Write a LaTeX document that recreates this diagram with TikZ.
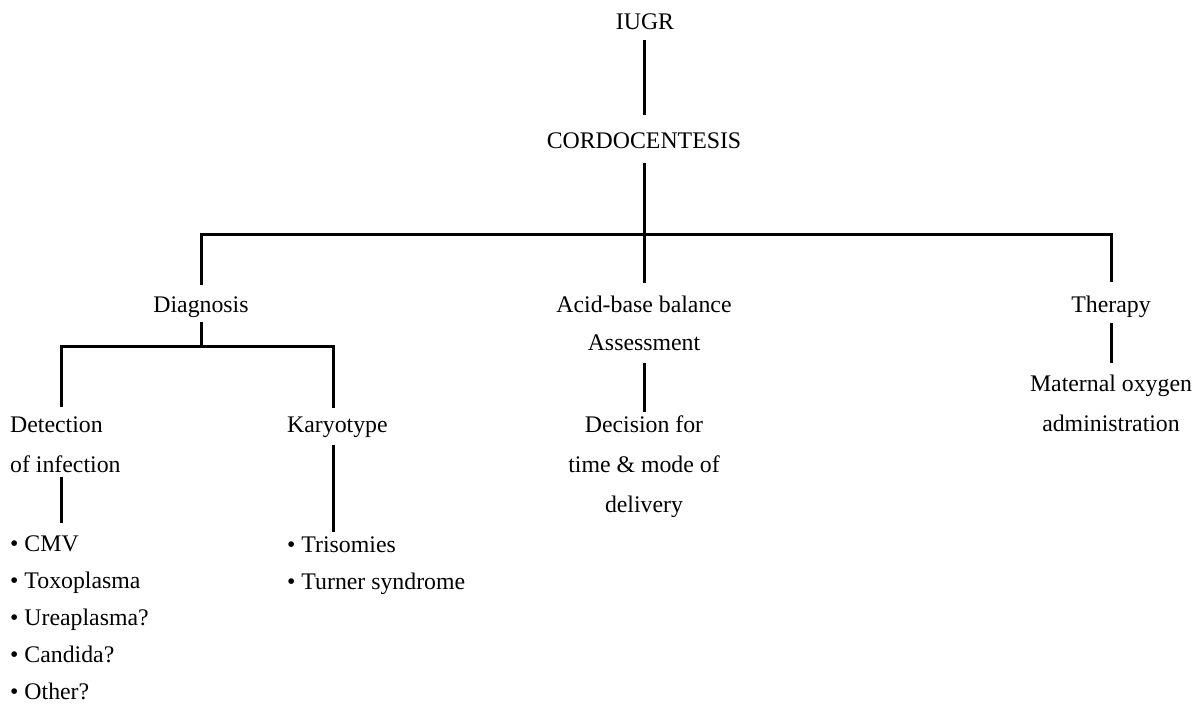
\documentclass[tikz,border=0pt]{standalone}
\usepackage{fontspec}
\setmainfont{Liberation Serif}
\begin{document}
\begin{tikzpicture}[x=1pt,y=-1pt,
  lbl/.style={inner sep=0pt,text height=15.5pt,text depth=5pt,font=\fontsize{23.8}{28}\selectfont},
  cl/.style={lbl,anchor=base},
  ll/.style={lbl,anchor=base west},
  conn/.style={line width=3pt,line join=miter}]
\useasboundingbox (0,0) rectangle (1201,711);
% nodes
\node[cl] (iugr) at (645,30) {IUGR};
\node[cl] (cordo) at (644,149) {CORDOCENTESIS};
\node[cl] (diag) at (201,312) {Diagnosis};
\node[cl] (acid1) at (644,312) {Acid-base balance};
\node[cl] (acid2) at (644,350) {Assessment};
\node[cl] (ther) at (1111,312) {Therapy};
\node[ll] (det1) at (10,432) {Detection};
\node[ll] (det2) at (10,472) {of infection};
\node[ll] (kary) at (287,432) {Karyotype};
\node[cl] (dec1) at (644,432) {Decision for};
\node[cl] (dec2) at (644,472) {time \& mode of};
\node[cl] (dec3) at (644,512) {delivery};
\node[cl] (mat1) at (1111,391) {Maternal oxygen};
\node[cl] (mat2) at (1111,431) {administration};
\node[ll] (cmv) at (10,551) {\textbullet\ CMV};
\node[ll] (toxo) at (10,588) {\textbullet\ Toxoplasma};
\node[ll] (urea) at (10,625) {\textbullet\ Ureaplasma?};
\node[ll] (cand) at (10,662) {\textbullet\ Candida?};
\node[ll] (oth) at (10,699) {\textbullet\ Other?};
\node[ll] (tri) at (287,552) {\textbullet\ Trisomies};
\node[ll] (turn) at (287,589) {\textbullet\ Turner syndrome};
% junction coordinates
\coordinate (bar) at (644,235);
\coordinate (bl) at (61.5,346);
\coordinate (br) at (333,346);
% connectors
\draw[conn,shorten <=5pt,shorten >=18.5pt] (cordo.north |- iugr.south) -- (cordo.north);
\draw[conn,shorten <=9pt,shorten >=13.5pt] (cordo.south) -- (acid1.north);
\draw[conn,shorten <=11.5pt,shorten >=14.5pt] (diag.north) |- (bar) -| (ther.north);
\draw[conn,shorten <=5pt] (diag.south) -- (diag.south |- bl);
\draw[conn,shorten <=9.5pt,shorten >=8.5pt] (bl |- det1.north) -- (bl) -- (br) -- (br |- kary.north);
\draw[conn,shorten >=12.5pt] (bl |- det2.south) -- (bl |- cmv.north);
\draw[conn,shorten <=8pt,shorten >=4.5pt] (br |- kary.south) -- (br |- tri.north);
\draw[conn,shorten <=8pt,shorten >=4.5pt] (acid2.south) -- (dec1.north);
\draw[conn,shorten <=6pt,shorten >=12.5pt] (ther.south) -- (mat1.north);
\end{tikzpicture}
\end{document}
